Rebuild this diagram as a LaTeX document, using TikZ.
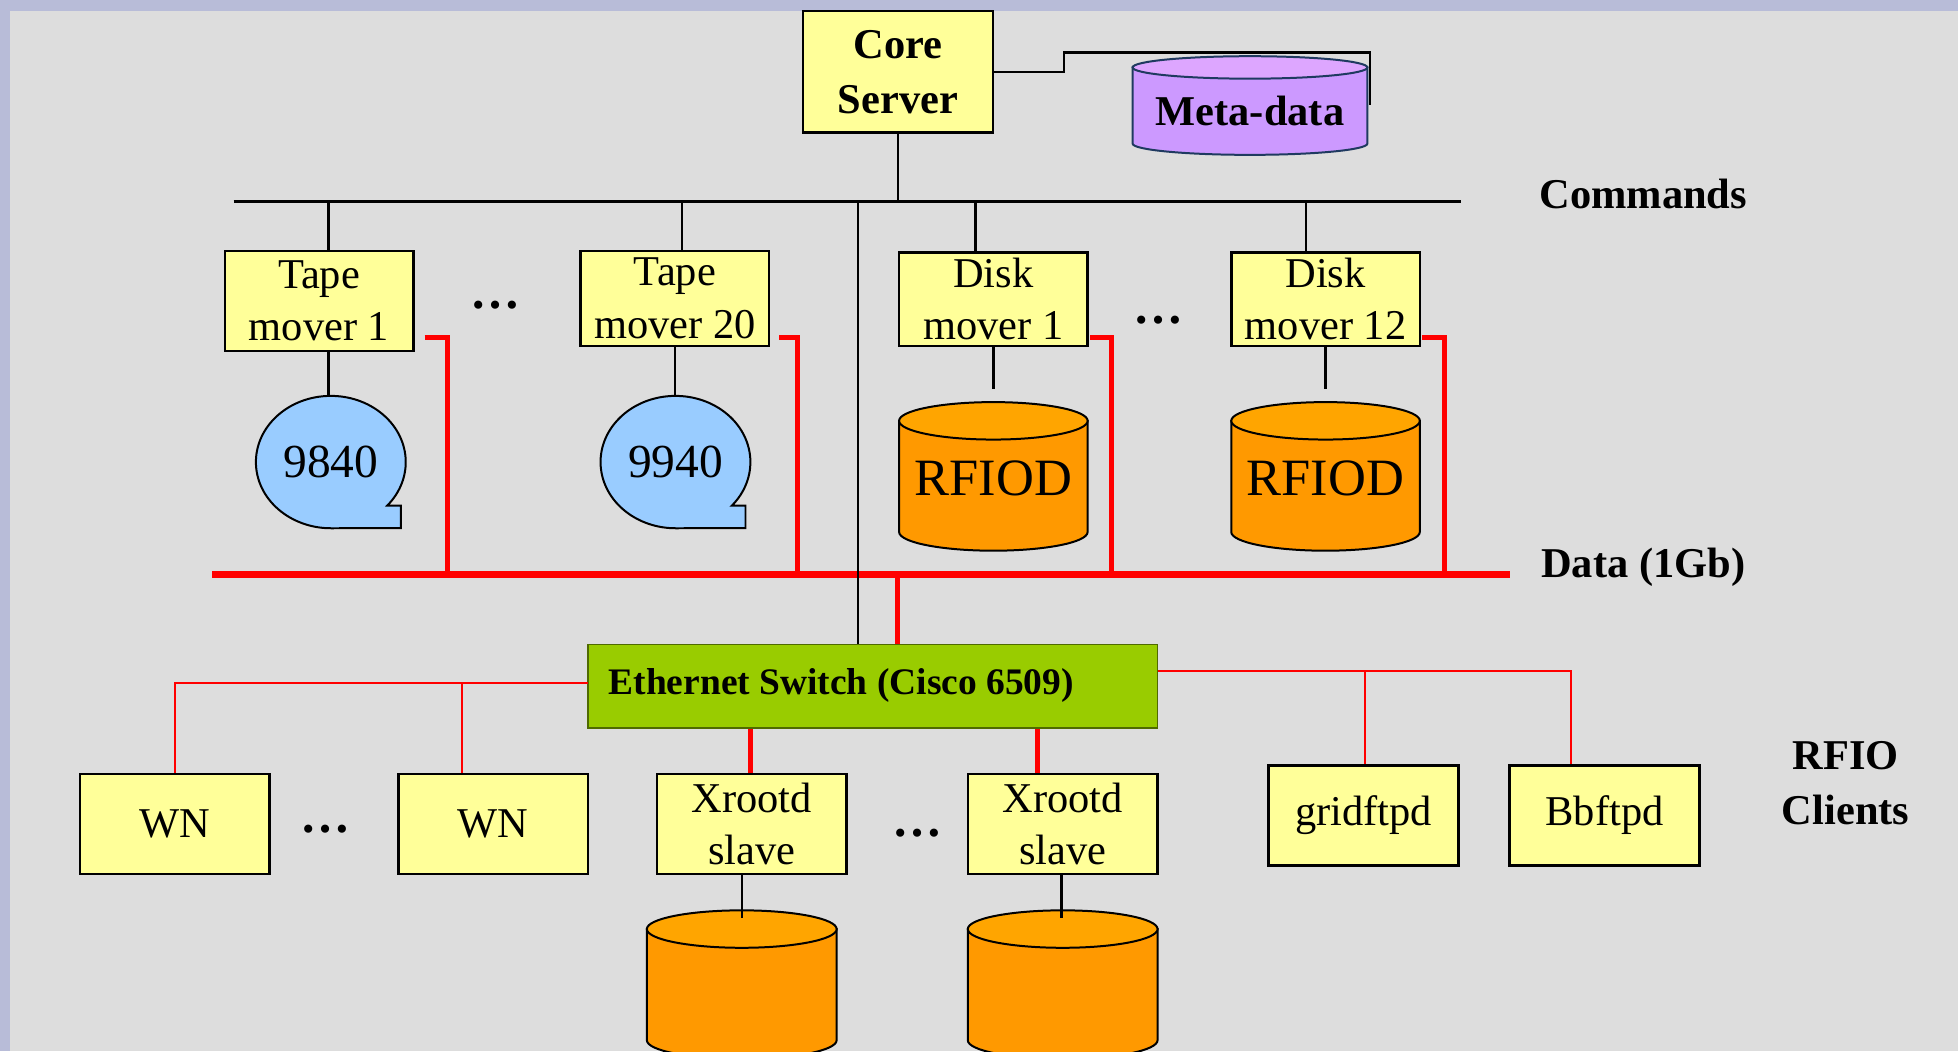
\documentclass[tikz,border=0pt]{standalone}
\usepackage{fontspec}
\setmainfont{Liberation Serif}
\usetikzlibrary{calc}
\definecolor{bg}{HTML}{DDDDDD}
\definecolor{framecol}{HTML}{B8BCD8}
\definecolor{boxyellow}{HTML}{FFFF99}
\definecolor{tapeblue}{HTML}{99CCFF}
\definecolor{diskbody}{HTML}{FF9900}
\definecolor{disktop}{HTML}{FFA500}
\definecolor{metabody}{HTML}{CC99FF}
\definecolor{metatop}{HTML}{DDA6FF}
\definecolor{metaline}{HTML}{1F3A60}
\definecolor{switchgreen}{HTML}{99CC00}
\definecolor{switchline}{HTML}{4F6A00}
\definecolor{datared}{HTML}{FF0000}
\newcommand{\drawcyl}[8]{%
  \filldraw[fill=#6,draw=#8,line width=0.8pt] ({#1-#2},#3) -- ({#1-#2},#4) arc[start angle=180,end angle=0,x radius=#2,y radius=#5] -- ({#1+#2},#3) -- cycle;
  \filldraw[fill=#7,draw=#8,line width=0.8pt] (#1,#3) ellipse [x radius=#2, y radius=#5];}
\newcommand{\drawtape}[2]{% center x, center y
  \filldraw[fill=tapeblue,draw=black,line width=0.8pt] ({#1+45},{#2+35}) arc[start angle=41.3,end angle=-270,x radius=60,y radius=53] -- ({#1+56},{#2+53}) -- ({#1+56},{#2+35}) -- cycle;}
\begin{document}
\begin{tikzpicture}[x=0.5pt,y=-0.5pt,
  box/.style={draw=black, line width=1pt, fill=boxyellow, inner sep=0pt, align=center, font=\fontsize{17}{21}\selectfont},
  lbl/.style={font=\bfseries\fontsize{17}{22}\selectfont, align=center, inner sep=0pt},
  dotsn/.style={font=\bfseries\fontsize{20}{22}\selectfont, inner sep=0pt},
  cmd/.style={line width=1pt, draw=black},
  data/.style={line width=2pt, draw=datared},
  thinred/.style={line width=0.75pt, draw=datared},
]
\fill[framecol] (0,0) rectangle (1568,842);
\fill[bg] (8,9) rectangle (1568,842);
\useasboundingbox (0,0) rectangle (1568,842);

% ---- core server and meta-data
\node[box, font=\bfseries\fontsize{17}{22}\selectfont, minimum width=76pt, minimum height=48.5pt] (core) at (719,57.5) {Core\\Server};
\drawcyl{1001}{94}{54}{115}{9}{metabody}{metatop}{metaline}
\node[lbl] (meta) at (1001,89) {Meta-data};
\coordinate (mtap) at (1097,84);
\draw[cmd] (core.east) -- ++(56,0) |- (1097,42) -- (mtap);

% ---- commands bus
\coordinate (cbL) at (187,161);
\coordinate (cbR) at (1170,161);
\draw[line width=1.2pt] (cbL) -- (cbR);
\draw[cmd] (core.south) -- (core.south |- cbL);
\node[lbl] (cmdl) at (1316,155) {Commands};

% ---- movers
\node[box, minimum width=75.5pt, minimum height=40pt] (tm1) at (255.5,241) {Tape\\mover 1};
\node[box, minimum width=75.5pt, minimum height=38pt] (tm20) at (540.5,239) {Tape\\mover 20};
\node[box, minimum width=75.5pt, minimum height=37.5pt] (dm1) at (795.5,239.5) {Disk\\mover 1};
\node[box, minimum width=75.5pt, minimum height=37.5pt] (dm12) at (1061.5,239.5) {Disk\\mover 12};
\node[dotsn] (dots1) at (397,244) {…};
\node[dotsn] (dots2) at (928,256) {…};

\draw[cmd] ([xshift=3.75pt]tm1.north) -- ([xshift=3.75pt]tm1.north |- cbL);
\draw[cmd] ([xshift=2.75pt]tm20.north) -- ([xshift=2.75pt]tm20.north |- cbL);
\draw[cmd] ([xshift=-7.25pt]dm1.north) -- ([xshift=-7.25pt]dm1.north |- cbL);
\draw[cmd] ([xshift=-7.75pt]dm12.north) -- ([xshift=-7.75pt]dm12.north |- cbL);

% ---- tapes
\drawtape{265}{370}
\drawtape{541}{370}
\node[inner sep=0pt, minimum width=60pt, minimum height=53pt, font=\fontsize{19}{22}\selectfont] (tape1) at (265,370) {9840};
\node[inner sep=0pt, minimum width=60pt, minimum height=53pt, font=\fontsize{19}{22}\selectfont] (tape2) at (541,370) {9940};
\draw[cmd] ([xshift=3.75pt]tm1.south) -- ([xshift=3.75pt]tm1.south |- tape1.north);
\draw[cmd] (tm20.south) -- (tm20.south |- tape2.north);

% ---- disks
\drawcyl{795.5}{75.5}{337}{426}{15}{diskbody}{disktop}{black}
\drawcyl{1061.5}{75.5}{337}{426}{15}{diskbody}{disktop}{black}
\node[inner sep=0pt, minimum width=75pt, minimum height=71pt, font=\fontsize{21}{24}\selectfont] (rf1) at (795.5,383) {RFIOD};
\node[inner sep=0pt, minimum width=75pt, minimum height=71pt, font=\fontsize{21}{24}\selectfont] (rf2) at (1061.5,383) {RFIOD};
\draw[cmd] (dm1.south) -- (rf1.north);
\draw[cmd] (dm12.south) -- (rf2.north);

% ---- data bus
\coordinate (dbL) at (170,460);
\coordinate (dbR) at (1209,460);
\coordinate (tm1d) at (340,270);  \coordinate (tm1v) at (358,460);
\coordinate (tm20d) at (624,270); \coordinate (tm20v) at (639,460);
\coordinate (dm1d) at (873,270);  \coordinate (dm1v) at (890,460);
\coordinate (dm12d) at (1139,270); \coordinate (dm12v) at (1157,460);
\draw[data] (tm1d) -| (tm1v);
\draw[data] (tm20d) -| (tm20v);
\draw[data] (dm1d) -| (dm1v);
\draw[data] (dm12d) -| (dm12v);
\draw[line width=2.5pt, draw=datared] (dbL) -- (dbR);
\node[lbl] (datal) at (1316,454) {Data (1Gb)};

% ---- switch
\node[draw=switchline, line width=0.6pt, fill=switchgreen, minimum width=228pt, minimum height=33.5pt, inner sep=0pt] (sw) at (699,549.5) {};
\node[anchor=west, font=\bfseries\fontsize{15}{18}\selectfont, inner sep=0pt] (swlbl) at (487,549) {Ethernet Switch (Cisco 6509)};
\coordinate (cb687) at (687,161);
\coordinate (db719) at (719,460);
\draw[cmd] (cb687) -- (cb687 |- sw.north);
\draw[data] (db719) -- (db719 |- sw.north);

% ---- bottom row
\node[box, minimum width=76pt, minimum height=40pt] (wn1) at (140,660) {WN};
\node[box, minimum width=76pt, minimum height=40pt] (wn2) at (395,660) {WN};
\node[box, minimum width=76pt, minimum height=40pt] (x1) at (602,660) {Xrootd\\slave};
\node[box, minimum width=76pt, minimum height=40pt] (x2) at (851,660) {Xrootd\\slave};
\node[box, minimum width=76pt, minimum height=40pt] (grid) at (1092,653) {\raisebox{-1.5pt}{gridftpd}};
\node[box, minimum width=76pt, minimum height=40pt] (bb) at (1285,653) {\raisebox{-1.5pt}{Bbftpd}};
\node[dotsn] (dots3) at (261,664) {…};
\node[dotsn] (dots4) at (735,667) {…};
\node[lbl] (rfiol) at (1478,627) {RFIO\\Clients};

\coordinate (swL) at (471,547);
\coordinate (wn2tap) at (370,547);
\draw[thinred] (swL) -| (wn1.north);
\draw[thinred] (wn2tap) -- (wn2tap |- wn2.north);
\coordinate (swR) at (927,537);
\coordinate (bbtap) at (1258,537);
\coordinate (gtap) at (1093,537);
\draw[thinred] (swR) -- (bbtap) -- (bbtap |- bb.north);
\draw[thinred] (gtap) -- (gtap |- grid.north);

\draw[data] ([xshift=-0.5pt]x1.north) -- ([xshift=-0.5pt]x1.north |- sw.south);
\draw[data] ([xshift=-10pt]x2.north) -- ([xshift=-10pt]x2.north |- sw.south);

% ---- xrootd disks
\drawcyl{594}{76}{744}{833}{15}{diskbody}{disktop}{black}
\drawcyl{851}{76}{744}{833}{15}{diskbody}{disktop}{black}
\coordinate (c1top) at (594,735);
\coordinate (c2top) at (850,735);
\draw[cmd] (x1.south -| c1top) -- (c1top);
\draw[cmd] (x2.south -| c2top) -- (c2top);
\end{tikzpicture}
\end{document}
